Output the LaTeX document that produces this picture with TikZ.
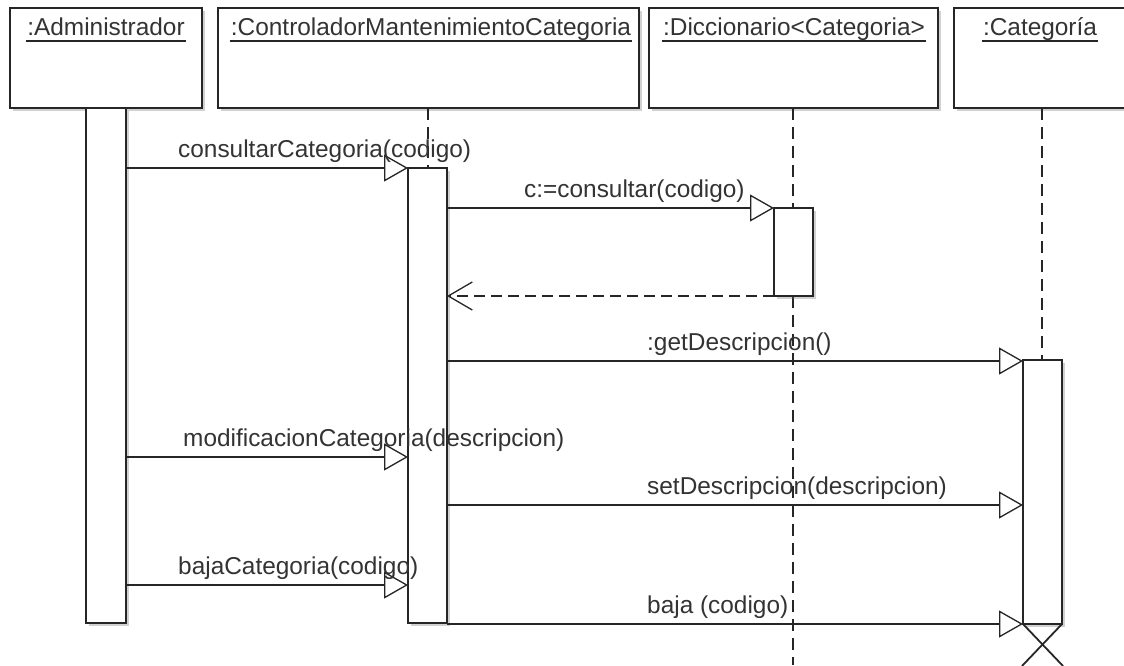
\documentclass[tikz,border=0pt]{standalone}
\usepackage{fontspec}
\setmainfont{Liberation Sans}
\usetikzlibrary{arrows.meta,shadows}
\begin{document}
\begin{tikzpicture}[x=1pt,y=-1pt,
  objbox/.style={draw=black!85, line width=2pt, fill=white, inner sep=0pt, outer sep=0pt, anchor=north west,
    drop shadow={shadow xshift=2.5pt,shadow yshift=-2.5pt,opacity=0.3,fill=black!60}},
  ttl/.style={font=\fontsize{24.4}{28}\selectfont, text=black!80, inner sep=0pt, anchor=base},
  lbl/.style={font=\fontsize{24.4}{28}\selectfont, text=black!80, inner sep=0pt, anchor=base west},
  msg/.style={draw=black!85, line width=1.5pt, -{Triangle[length=24pt,width=27pt,fill=white,line width=1.3pt]}},
  ret/.style={draw=black!85, line width=1.5pt, dash pattern=on 11pt off 6pt, -{Straight Barb[length=24pt,width=28pt,line width=1.3pt]}},
  life/.style={draw=black!85, line width=2pt, dash pattern=on 12pt off 7pt},
  uline/.style={draw=black!85, line width=2pt}]
\useasboundingbox (0,0) rectangle (1124,665);

% object boxes
\node[objbox, minimum width=192pt, minimum height=100pt] (bA) at (10,8) {};
\node[objbox, minimum width=421pt, minimum height=100pt] (bC) at (218,8) {};
\node[objbox, minimum width=289pt, minimum height=100pt] (bD) at (649,8) {};
\node[objbox, minimum width=190pt, minimum height=100pt] (bK) at (954,8) {};

% titles
\node[ttl] (tA) at (106,35) {:Administrador};
\node[ttl] (tC) at (431,35) {:ControladorMantenimientoCategoria};
\node[ttl] (tD) at (794,35) {:Diccionario<Categoria>};
\node[ttl] (tK) at (1040,35) {:Categoría};
\foreach \t in {tA,tC,tD,tK}
  \draw[uline] ([shift={(-1,6)}]\t.base west) -- ([shift={(1,6)}]\t.base east);

% lifelines
\coordinate (lCtop) at (428,108);
\coordinate (lCbot) at (428,168);
\coordinate (lDtop) at (793,108);
\coordinate (lDmid1) at (793,208);
\coordinate (lDmid2) at (793,296);
\coordinate (lDbot) at (793,665);
\coordinate (lKtop) at (1042,108);
\coordinate (lKbot) at (1042,360);
\draw[life] (lCtop) -- (lCbot);
\draw[life] (lDtop) -- (lDmid1);
\draw[life] (lDmid2) -- (lDbot);
\draw[life] (lKtop) -- (lKbot);

% activations
\node[objbox, minimum width=40pt, minimum height=515pt] (aA) at (86,108) {};
\node[objbox, minimum width=39pt, minimum height=455pt] (aC) at (408,168) {};
\node[objbox, minimum width=39pt, minimum height=88pt] (aD) at (774,208) {};
\node[objbox, minimum width=39pt, minimum height=264pt] (aK) at (1023,360) {};

% destruction X
\coordinate (x1) at (1023,624);
\coordinate (x2) at (1063,666);
\coordinate (x3) at (1062,624);
\coordinate (x4) at (1022,666);
\draw[draw=black!85, line width=1.8pt] (x1) -- (x2);
\draw[draw=black!85, line width=1.8pt] (x3) -- (x4);

% message endpoints
\coordinate (m1s) at (126,168);  \coordinate (m1e) at (408,168);
\coordinate (m2s) at (447,208);  \coordinate (m2e) at (774,208);
\coordinate (m3s) at (774,296);  \coordinate (m3e) at (447,296);
\coordinate (m4s) at (447,361);  \coordinate (m4e) at (1023,361);
\coordinate (m5s) at (126,457);  \coordinate (m5e) at (408,457);
\coordinate (m6s) at (447,505);  \coordinate (m6e) at (1023,505);
\coordinate (m7s) at (126,585);  \coordinate (m7e) at (408,585);
\coordinate (m8s) at (447,624);  \coordinate (m8e) at (1023,624);

\draw[msg] (m1s) -- (m1e);
\draw[msg] (m2s) -- (m2e);
\draw[ret] (m3s) -- (m3e);
\draw[msg] (m4s) -- (m4e);
\draw[msg] (m5s) -- (m5e);
\draw[msg] (m6s) -- (m6e);
\draw[msg] (m7s) -- (m7e);
\draw[msg] (m8s) -- (m8e);

% labels
\node[lbl] (L1) at (178,157) {consultarCategoria(codigo)};
\node[lbl] (L2) at (524,197) {c:=consultar(codigo)};
\node[lbl] (L3) at (647,350) {:getDescripcion()};
\node[lbl] (L4) at (183,446) {modificacionCategoria(descripcion)};
\node[lbl] (L5) at (647,494) {setDescripcion(descripcion)};
\node[lbl] (L6) at (178,574) {bajaCategoria(codigo)};
\node[lbl] (L7) at (647,613) {baja (codigo)};
\end{tikzpicture}
\end{document}
